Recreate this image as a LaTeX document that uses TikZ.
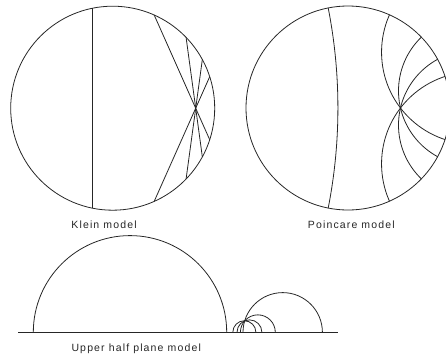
\documentclass[tikz,border=0pt]{standalone}
\usepackage{fontspec}
\newfontfamily\labfont[LetterSpace=11]{Liberation Sans}
\usetikzlibrary{calc}
\begin{document}
\begin{tikzpicture}[x=1pt,y=-1pt,
  geo/.style={line width=0.8pt, draw=black!85},
  lab/.style={font=\labfont\fontsize{10.5}{12}\selectfont, text=black!85, inner sep=0pt, anchor=base}]
\useasboundingbox (0,0) rectangle (446,356);
\clip (0,0) rectangle (446,356);
\def\R{102pt}
% Klein model
\coordinate (kc) at (112.7,108.2);
\draw[geo] (kc) circle[radius=\R];
\draw[geo] ($(kc)+(101.2:\R)$) -- ($(kc)+(-101.2:\R)$);
\foreach \a/\b in {66/-18, 44/-28.5, 28.5/-44, 18/-66}
  \draw[geo] ($(kc)+(\a:\R)$) -- ($(kc)+(\b:\R)$);
\node[lab] (klein) at (104,228) {Klein model};
% Poincare model
\coordinate (pc) at (348,108);
\begin{scope}
  \clip (pc) circle[radius=\R];
  \draw[geo] ($(pc)+(180:525.2pt)$) circle[radius=515.1pt];
  \draw[geo] ($(pc)+(24:137.25pt)$) circle[radius=91.84pt];
  \draw[geo] ($(pc)+(-24:137.25pt)$) circle[radius=91.84pt];
  \draw[geo] ($(pc)+(7.75:126.45pt)$) circle[radius=74.79pt];
  \draw[geo] ($(pc)+(-7.75:126.45pt)$) circle[radius=74.79pt];
\end{scope}
\draw[geo] (pc) circle[radius=\R];
\node[lab] (poinc) at (351.3,228.7) {Poincare model};
% Upper half plane model
\coordinate (bl) at (18.3,332.3);
\coordinate (br) at (337.7,332.3);
\draw[geo] (bl) -- (br);
\draw[geo] (33.3,332.3) arc[start angle=180, end angle=0, radius=96.7pt];
\foreach \l/\r in {243/322.4, 240.4/275.3, 237/261.9, 232.8/255.9}{
  \pgfmathsetmacro\rr{(\r-\l)/2}
  \draw[geo] (\l,332.3) arc[start angle=180, end angle=0, radius=\rr pt];
}
\node[lab] (uhp) at (136.2,351.5) {Upper half plane model};
\end{tikzpicture}
\end{document}
